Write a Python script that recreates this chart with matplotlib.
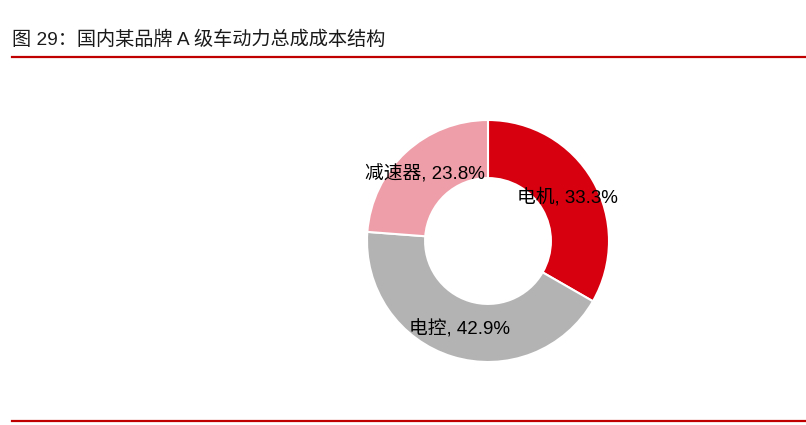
import matplotlib
matplotlib.use("Agg")
import matplotlib.pyplot as plt
from matplotlib.lines import Line2D

plt.rcParams['font.family'] = ['Liberation Sans', 'Noto Sans CJK SC', 'DejaVu Sans']

title = "图 29：国内某品牌 A 级车动力总成成本结构"
categories = ["电机", "电控", "减速器"]
values = [33.3, 42.9, 23.8]
colors = ["#D7000F", "#B3B3B3", "#EE9EA8"]

W, H = 806, 425
fig = plt.figure(figsize=(W / 100, H / 100), dpi=100)

# pie axes: center (488, 241), radius 121
r = 121
cx, cy = 488, 241
ax = fig.add_axes([(cx - r) / W, (H - cy - r) / H, 2 * r / W, 2 * r / H])
wedges, _ = ax.pie(values, colors=colors, startangle=90, counterclock=False,
                   radius=1.0, wedgeprops=dict(width=0.48, edgecolor='white', linewidth=1.5))
ax.set_xlim(-1, 1)
ax.set_ylim(-1, 1)
ax.set_aspect('equal')
ax.axis('off')

# label positions in pixel coords
label_px = [(567, 197), (460, 329), (425, 174)]
for cat, v, (px, py) in zip(categories, values, label_px):
    fig.text(px / W, 1 - py / H, f"{cat}, {v:.1f}%", ha='center', va='center',
             fontsize=13.5, color='black')

fig.text(12 / W, 1 - 40 / H, title, ha='left', va='center', fontsize=13.8, color='#1a1a1a')

fig.add_artist(Line2D([12 / W, 1.0], [1 - 56.5 / H] * 2, color='#C00000', lw=1.6,
                      transform=fig.transFigure))
fig.add_artist(Line2D([12 / W, 1.0], [1 - 420.5 / H] * 2, color='#C00000', lw=1.6,
                      transform=fig.transFigure))

fig.savefig("out.png", dpi=100)
